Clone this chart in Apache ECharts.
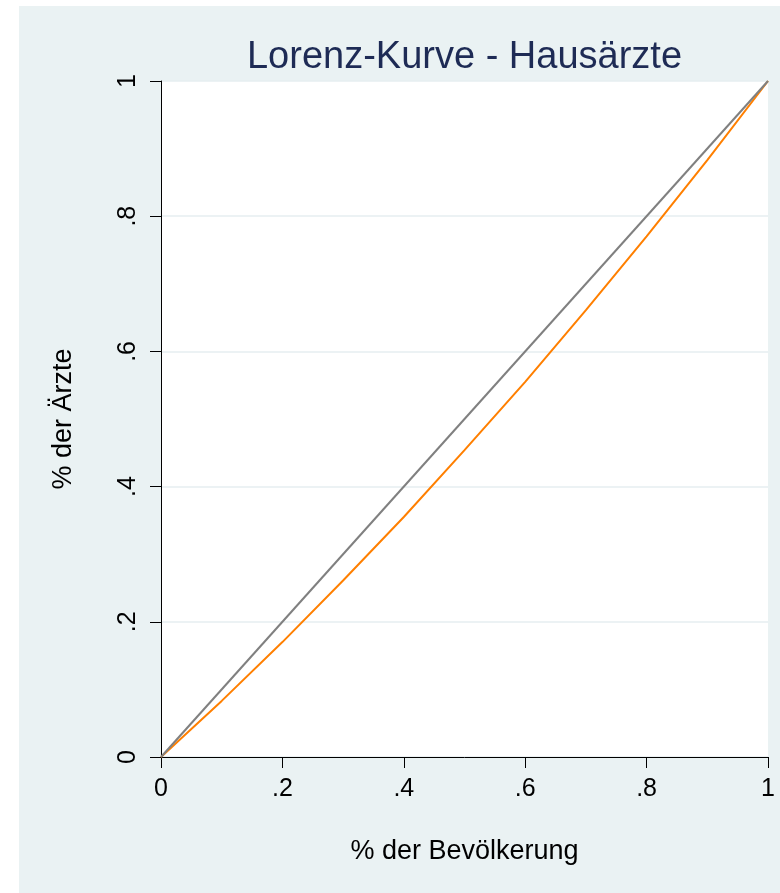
<!DOCTYPE html>
<html>
<head>
<meta charset="utf-8">
<script src="https://cdn.jsdelivr.net/npm/echarts@6/dist/echarts.min.js"></script>
<style>
  html, body { margin: 0; padding: 0; background: #ffffff; width: 780px; height: 893px; overflow: hidden; }
  #c { position: absolute; left: 19px; top: 6px; width: 761px; height: 887px; }
</style>
</head>
<body>
<div id="c"></div>
<script>
// Data
const titleText = 'Lorenz-Kurve - Hausärzte';
const xAxisTitle = '% der Bevölkerung';
const yAxisTitle = '% der Ärzte';
const lorenzX = [0, 0.1, 0.2, 0.3, 0.4, 0.5, 0.6, 0.7, 0.8, 0.9, 1];
const lorenzY = [0, 0.083, 0.170, 0.261, 0.355, 0.454, 0.555, 0.661, 0.770, 0.883, 1];
const diagX = [0, 1];
const diagY = [0, 1];
const tickValues = [0, 0.2, 0.4, 0.6, 0.8, 1];
const tickLabels = ['0', '.2', '.4', '.6', '.8', '1'];

function fmt(v) {
  for (let i = 0; i < tickValues.length; i++) {
    if (Math.abs(v - tickValues[i]) < 1e-9) return tickLabels[i];
  }
  return '';
}

const chart = echarts.init(document.getElementById('c'), null, { renderer: 'canvas' });
const font = 'Liberation Sans, Arial, Helvetica, sans-serif';

const option = {
  backgroundColor: '#eaf2f3',
  animation: false,
  graphic: [{
    type: 'text',
    x: 445.5,
    y: 52,
    style: {
      text: titleText,
      fill: '#1e2b55',
      font: '38px ' + font,
      textAlign: 'center',
      textVerticalAlign: 'middle'
    }
  }],
  grid: {
    left: 142, right: 12, top: 75, bottom: 136,
    show: true, backgroundColor: '#ffffff', borderWidth: 0
  },
  xAxis: {
    type: 'value', min: 0, max: 1, interval: 0.2,
    name: xAxisTitle, nameLocation: 'middle', nameGap: 81,
    nameTextStyle: { fontFamily: font, fontSize: 27, color: '#000' },
    axisLine: { show: true, onZero: false, lineStyle: { color: '#000', width: 1 } },
    axisTick: { show: true, length: 11, lineStyle: { color: '#000', width: 1 } },
    axisLabel: { margin: 20, fontFamily: font, fontSize: 25, color: '#000', formatter: fmt },
    splitLine: { show: false }
  },
  yAxis: {
    type: 'value', min: 0, max: 1, interval: 0.2,
    name: yAxisTitle, nameLocation: 'middle', nameGap: 84, nameRotate: 90,
    nameTextStyle: { fontFamily: font, fontSize: 27, color: '#000' },
    axisLine: { show: true, onZero: false, lineStyle: { color: '#000', width: 1 } },
    axisTick: { show: true, length: 11, lineStyle: { color: '#000', width: 1 } },
    axisLabel: { margin: 20, rotate: 90, fontFamily: font, fontSize: 25, color: '#000', formatter: fmt },
    splitLine: { show: true, lineStyle: { color: '#e6eef0', width: 1.5 } }
  },
  series: [
    {
      type: 'line', name: 'Lorenz',
      data: lorenzX.map((x, i) => [x, lorenzY[i]]),
      showSymbol: false, symbol: 'none',
      lineStyle: { color: '#ff7f00', width: 2 },
      z: 3
    },
    {
      type: 'line', name: 'Gleichverteilung',
      data: diagX.map((x, i) => [x, diagY[i]]),
      showSymbol: false, symbol: 'none',
      lineStyle: { color: '#808080', width: 2 },
      z: 4
    }
  ]
};
chart.setOption(option);
</script>
</body>
</html>
